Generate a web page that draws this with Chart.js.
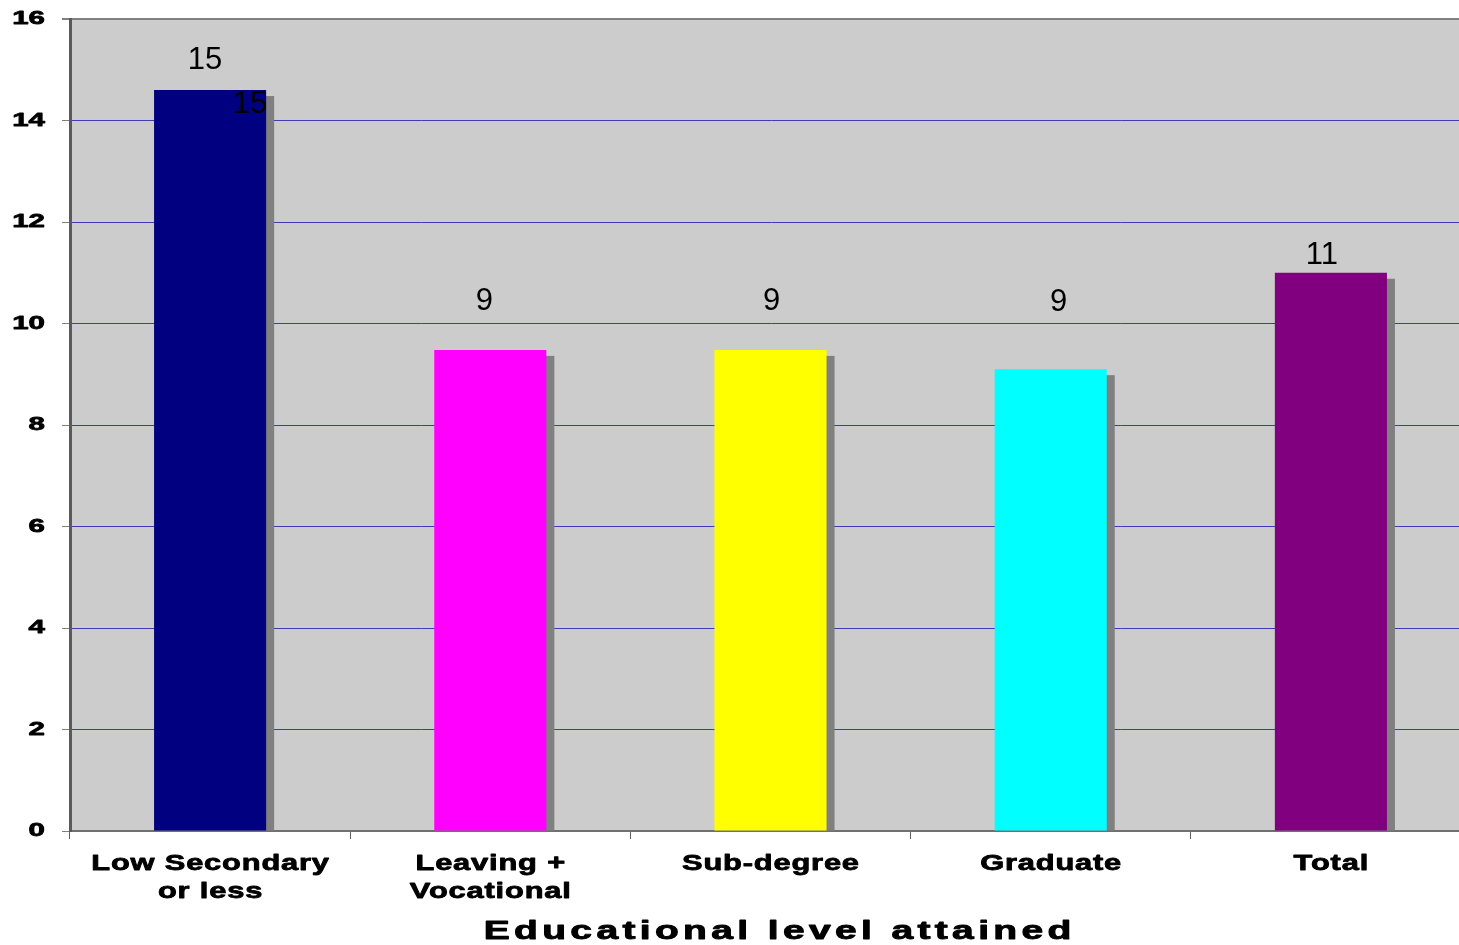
<!DOCTYPE html>
<html>
<head>
<meta charset="utf-8">
<script src="https://cdn.jsdelivr.net/npm/chart.js@4.4.1/dist/chart.umd.min.js"></script>
<style>
  html, body { margin: 0; padding: 0; background: #fff; overflow: hidden; }
  #wrap { width: 1480px; height: 945px; }
</style>
</head>
<body>
<div id="wrap"><canvas id="chart"></canvas></div>
<script>
// categories and values
const levels = [['Low Secondary', 'or less'], ['Leaving +', 'Vocational'], ['Sub-degree'], ['Graduate'], ['Total']];
const scores = [14.6, 9.48, 9.48, 9.1, 11.0];
const barColours = ['#000080', '#FF00FF', '#FFFF00', '#00FFFF', '#800080'];
const yTicks = [0, 2, 4, 6, 8, 10, 12, 14, 16];
const axisTitle = 'Educational level attained';

//draw text stretched sideways, with extra gap between letters and a light stroke to thicken it
function wideText(ctx, text, x, y, align, sx, gap, heavy) {
  ctx.save();
  ctx.letterSpacing = gap + 'px';
  const w = (ctx.measureText(text).width - gap) * sx;
  const left = align === 'center' ? x - w / 2 : align === 'right' ? x - w : x;
  ctx.translate(left, y);
  ctx.scale(sx, 1);
  ctx.textAlign = 'left';
  ctx.fillText(text, 0, 0);
  if (heavy) {
    ctx.lineWidth = heavy;
    ctx.strokeStyle = ctx.fillStyle;
    ctx.lineJoin = 'round';
    ctx.strokeText(text, 0, 0);
  }
  ctx.restore();
}

//grey plot background
const plotBackground = {
  id: 'plotBackground',
  beforeDraw(chart) {
    const { ctx, chartArea: a } = chart;
    ctx.save();
    ctx.fillStyle = '#CCCCCC';
    ctx.fillRect(a.left, a.top, a.right - a.left, a.bottom - a.top);
    ctx.restore();
  }
};

//grey drop shadow behind each bar
const barShadow = {
  id: 'barShadow',
  beforeDatasetsDraw(chart, args, opts) {
    const ctx = chart.ctx;
    ctx.save();
    ctx.fillStyle = opts.color;
    chart.getDatasetMeta(0).data.forEach(bar => {
      const { x, y, base, width } = bar.getProps(['x', 'y', 'base', 'width'], true);
      ctx.fillRect(x - width / 2 + opts.dx, y + opts.dy, width, base - y - opts.dy);
    });
    ctx.restore();
  }
};

//value labels above the bars
const valueLabels = {
  id: 'valueLabels',
  afterDatasetsDraw(chart, args, opts) {
    const ctx = chart.ctx;
    ctx.save();
    ctx.font = '31px "Liberation Sans", Arial, sans-serif';
    ctx.fillStyle = '#000';
    ctx.textAlign = 'center';
    ctx.textBaseline = 'middle';
    chart.getDatasetMeta(0).data.forEach((bar, i) => {
      const text = scores[i].toFixed(0);
      const [dx, dy] = opts.shift[i];
      ctx.fillText(text, bar.x + dx, bar.y + dy);
      if (i === opts.echo.index) {
        ctx.fillText(text, bar.x + opts.echo.dx, bar.y + opts.echo.dy);
      }
    });
    ctx.restore();
  }
};

//axis labels and title, drawn wide
const axisText = {
  id: 'axisText',
  afterDraw(chart) {
    const ctx = chart.ctx;
    const xs = chart.scales.x;
    const ys = chart.scales.y;
    ctx.save();
    ctx.fillStyle = '#000';
    ctx.textBaseline = 'middle';

    ctx.font = 'bold 19px "Liberation Sans", Arial, sans-serif';
    yTicks.forEach(v => {
      wideText(ctx, String(v), 45, ys.getPixelForValue(v), 'right', 1.55, 0, 0.8);
    });

    ctx.font = 'bold 22px "Liberation Sans", Arial, sans-serif';
    levels.forEach((lines, i) => {
      const cx = xs.getPixelForValue(i);
      lines.forEach((line, j) => {
        wideText(ctx, line, cx, xs.top + 33 + j * 28, 'center', 1.4, 0.6, 0.8);
      });
    });

    ctx.font = 'bold 26px "Liberation Sans", Arial, sans-serif';
    wideText(ctx, axisTitle, (chart.chartArea.left + chart.chartArea.right) / 2 + 7, 932, 'center', 1.5, 2.9, 0.9);
    ctx.restore();
  }
};

new Chart(document.getElementById('chart'), {
  type: 'bar',
  data: {
    labels: levels,
    datasets: [{
      data: scores,
      backgroundColor: barColours,
      borderWidth: 0,
      barPercentage: 0.4,
      categoryPercentage: 1
    }]
  },
  options: {
    responsive: true,
    maintainAspectRatio: false,
    animation: false,
    layout: { padding: { top: 19, right: 9, left: 0, bottom: 0 } },
    plugins: {
      legend: { display: false },
      tooltip: { enabled: false },
      barShadow: { color: '#808080', dx: 8, dy: 6 },
      valueLabels: {
        shift: [[-5, -30], [-6, -48], [1, -48], [8, -67], [-9, -17]],
        echo: { index: 0, dx: 40, dy: 14 }
      }
    },
    scales: {
      x: {
        offset: true,
        grid: {
          offset: true,
          drawOnChartArea: false,
          drawTicks: true,
          tickLength: 8,
          tickColor: '#606060'
        },
        border: { color: '#707070', width: 2 },
        ticks: { display: false },
        afterFit: s => { s.height = 114; }
      },
      y: {
        min: 0,
        max: 16,
        afterBuildTicks: s => { s.ticks = yTicks.map(v => ({ value: v })); },
        grid: {
          color: c => (c.tick.value === 16 || c.tick.value === 0) ? '#808080' : '#3c3cb8',
          lineWidth: c => c.tick.value === 16 ? 2 : 1,
          tickColor: '#808080',
          tickLength: 8
        },
        border: { color: '#5a5a5a', width: 3 },
        ticks: { display: false },
        afterFit: s => { s.width = 70; }
      }
    }
  },
  plugins: [plotBackground, barShadow, valueLabels, axisText]
});
</script>
</body>
</html>
